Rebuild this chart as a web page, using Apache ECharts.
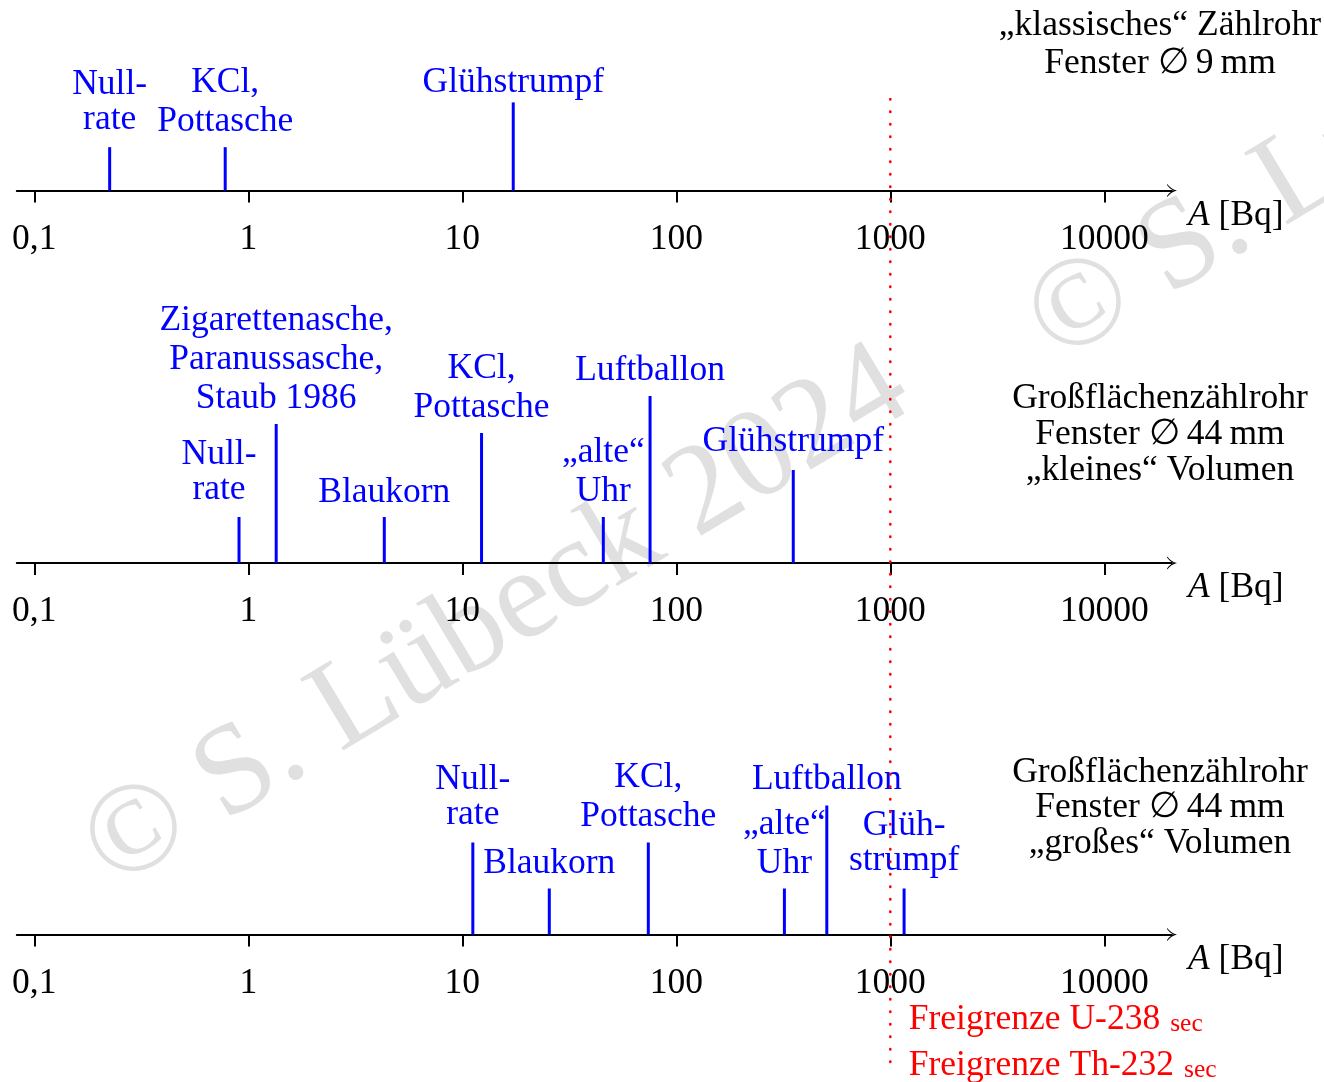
<!DOCTYPE html>
<html>
<head>
<meta charset="utf-8">
<script src="https://cdn.jsdelivr.net/npm/echarts@6/dist/echarts.min.js"></script>
<style>
html, body { margin: 0; padding: 0; background: #fff; }
#chart { width: 1324px; height: 1082px; }
</style>
</head>
<body>
<div id="chart"></div>
<script>
// ---- data: activities of everyday samples, in Bq ----
const classicLabels = ['Null-\nrate', 'KCl,\nPottasche', 'Glühstrumpf'];
const classicActivity = [0.225, 0.78, 17.3];

const smallVolumeLabels = ['Null-\nrate', 'Zigarettenasche,\nParanussasche,\nStaub 1986', 'Blaukorn',
  'KCl,\nPottasche', '„alte“\nUhr', 'Luftballon', 'Glühstrumpf'];
const smallVolumeActivity = [0.905, 1.35, 4.32, 12.3, 45.6, 75.4, 352];

const largeVolumeLabels = ['Null-\nrate', 'Blaukorn', 'KCl,\nPottasche', '„alte“\nUhr', 'Luftballon', 'Glüh-\nstrumpf'];
const largeVolumeActivity = [11.2, 25.5, 74, 320, 505, 1160];

const decadeTickLabels = ['0,1', '1', '10', '100', '1000', '10000'];

const counterTitles = [
  '„klassisches“ Zählrohr\nFenster ∅\u20099\u2009mm',
  'Großflächenzählrohr\nFenster ∅\u200944\u2009mm\n„kleines“ Volumen',
  'Großflächenzählrohr\nFenster ∅\u200944\u2009mm\n„großes“ Volumen'
];

const exemptionLimit = 1000;
const exemptionLabels = ['Freigrenze U-238', 'Freigrenze Th-232'];
const exemptionSuffix = 'sec';

const axisTitle = '{i|A} [Bq]';
const watermark = '© S. Lübeck 2024';

// ---- layout ----
const FONT_FAMILY = '"Liberation Serif", "Times New Roman", "DejaVu Serif", serif';
const FONT_SIZE = 35.5;
const FONT = FONT_SIZE + 'px ' + FONT_FAMILY;
const MID = 8.5;           // distance from canvas "middle" baseline to alphabetic baseline
const BLUE = '#0000ff';
const RED = '#ff0000';

const axisLeft = 34.3;     // pixel of 0.1 Bq
const decadePx = 214;
const panelAxisY = [190.5, 563, 934.5];
const panelHeight = 200;

// stem lengths (px), gap between stem top and the label's last baseline, sideways label shift
const stemLengths = [
  [45.5, 45.5, 92.5],
  [46, 139, 46, 130, 46, 167, 93],
  [92, 46, 92, 46, 129, 46]
];
const labelGaps = [
  [19, 17, 11.6],
  [18.4, 16.7, 16, 17.3, 16.7, 16.4, 20],
  [19, 16, 17, 16.6, 17.4, 19]
];
const labelShifts = [
  [0, 0, 0],
  [-20, 0, 0, 0, 0, 0, 0],
  [0, 0, 0, 0, 0, 0]
];

const panels = [
  { labels: classicLabels, activity: classicActivity },
  { labels: smallVolumeLabels, activity: smallVolumeActivity },
  { labels: largeVolumeLabels, activity: largeVolumeActivity }
];

const chart = echarts.init(document.getElementById('chart'), null, { renderer: 'canvas' });

const grids = [], xAxes = [], yAxes = [], series = [];

function tickFormatter(v) {
  const idx = Math.round(Math.log10(v)) + 1;
  return decadeTickLabels[idx] !== undefined ? decadeTickLabels[idx] : '';
}

// log-scaled data axes, one per counter
panelAxisY.forEach(function (ay, p) {
  grids.push({ left: axisLeft, width: decadePx * 5, top: ay - panelHeight, height: panelHeight });
  xAxes.push({
    type: 'log', logBase: 10, min: 0.1, max: 10000, gridIndex: p,
    axisLine: { show: false },
    axisTick: { show: true, length: 12, lineStyle: { color: '#000', width: 2 } },
    minorTick: { show: false },
    splitLine: { show: false },
    axisLabel: {
      formatter: tickFormatter, margin: 31, color: '#000',
      fontFamily: FONT_FAMILY, fontSize: FONT_SIZE, lineHeight: 36
    }
  });
  yAxes.push({ type: 'value', min: 0, max: panelHeight, gridIndex: p, show: false });
});

// arrow lines carrying the axis title
const arrowPath = 'path://M70,0 Q56,62 0,104 L12,106 Q62,68 70,34 Q78,68 128,106 L140,104 Q84,62 70,0 Z';
panelAxisY.forEach(function (ay, p) {
  const g = grids.length;
  grids.push({ left: 16.7, width: 1172 - 16.7, top: ay - panelHeight, height: panelHeight });
  xAxes.push({
    type: 'value', min: 0, max: 1, gridIndex: g,
    axisLine: {
      show: true, onZero: false,
      lineStyle: { color: '#000', width: 1.8 },
      symbol: ['none', arrowPath], symbolSize: [14, 10]
    },
    axisTick: { show: false }, axisLabel: { show: false }, splitLine: { show: false },
    name: axisTitle, nameLocation: 'end', nameGap: 16,
    nameTextStyle: {
      color: '#000', fontFamily: FONT_FAMILY, fontSize: FONT_SIZE, lineHeight: 36,
      align: 'left', verticalAlign: 'top', padding: [7, 0, 0, 0],
      rich: { i: { fontStyle: 'italic', fontFamily: FONT_FAMILY, fontSize: FONT_SIZE, lineHeight: 36, color: '#000' } }
    }
  });
  yAxes.push({ type: 'value', min: 0, max: 1, gridIndex: g, show: false });
});

// overlay for the exemption limit line
const overlayIndex = grids.length;
grids.push({ left: axisLeft, width: decadePx * 5, top: 99, height: 973 });
xAxes.push({ type: 'log', logBase: 10, min: 0.1, max: 10000, gridIndex: overlayIndex, show: false });
yAxes.push({ type: 'value', min: 0, max: 1, gridIndex: overlayIndex, show: false });

// stems with their labels
panels.forEach(function (panel, p) {
  const data = panel.activity.map(function (a, i) { return [a, stemLengths[p][i]]; });
  series.push({
    type: 'custom', xAxisIndex: p, yAxisIndex: p, clip: false, silent: true, z: 5,
    encode: { x: 0, y: 1 },
    data: data,
    renderItem: function (params, api) {
      const i = params.dataIndex;
      const foot = api.coord([api.value(0), 0]);
      const head = api.coord([api.value(0), api.value(1)]);
      const children = [{
        type: 'line',
        shape: { x1: foot[0], y1: foot[1], x2: head[0], y2: head[1] },
        style: { stroke: BLUE, lineWidth: 3 }
      }];
      const lines = panel.labels[i].split('\n');
      const cx = foot[0] + labelShifts[p][i];
      let baseline = head[1] - labelGaps[p][i];
      for (let k = lines.length - 1; k >= 0; k--) {
        children.push({
          type: 'text', x: cx, y: baseline - MID,
          style: { text: lines[k], align: 'center', verticalAlign: 'middle', font: FONT, fill: BLUE }
        });
        if (k > 0) baseline -= /[,„gjpqy]/.test(lines[k - 1]) ? 39 : 35;
      }
      return { type: 'group', children: children };
    }
  });
});

// exemption limit (dotted)
series.push({
  type: 'line', xAxisIndex: overlayIndex, yAxisIndex: overlayIndex, silent: true, z: 10,
  symbol: 'none', animation: false,
  data: [[exemptionLimit, 1], [exemptionLimit, 0]],
  lineStyle: { color: RED, width: 2.6, type: [0.4, 12.1], cap: 'round' }
});

chart.setOption({
  backgroundColor: '#fff',
  animation: false,
  grid: grids, xAxis: xAxes, yAxis: yAxes, series: series
});

const limitX = chart.convertToPixel({ xAxisIndex: overlayIndex }, exemptionLimit);
const rot = 31 * Math.PI / 180;

const graphics = [
  { type: 'text', x: 96, y: 860, rotation: rot, z: -10, silent: true,
    style: { text: watermark, font: '128px ' + FONT_FAMILY, fill: '#e0e0e0', align: 'left', verticalAlign: 'middle' } },
  { type: 'text', x: 1040, y: 334, rotation: rot, z: -10, silent: true,
    style: { text: watermark, font: '128px ' + FONT_FAMILY, fill: '#e0e0e0', align: 'left', verticalAlign: 'middle' } },
  { type: 'text', x: 1160, y: 7,
    style: { text: counterTitles[0], font: FONT, fill: '#000', align: 'center', verticalAlign: 'top', lineHeight: 38 } },
  { type: 'text', x: 1160, y: 380.5,
    style: { text: counterTitles[1], font: FONT, fill: '#000', align: 'center', verticalAlign: 'top', lineHeight: 36 } },
  { type: 'text', x: 1160, y: 754.5,
    style: { text: counterTitles[2], font: FONT, fill: '#000', align: 'center', verticalAlign: 'top', lineHeight: 35.5 } }
];
const exemptionBaselines = [1027, 1073];
exemptionLabels.forEach(function (lab, k) {
  graphics.push({
    type: 'text', x: limitX + 18.5, y: exemptionBaselines[k] - 25.5, z: 20,
    style: {
      text: lab + '{s|' + exemptionSuffix + '}',
      font: FONT, fill: RED, align: 'left', verticalAlign: 'top', lineHeight: 36,
      rich: { s: { fontFamily: FONT_FAMILY, fontSize: 25.5, fill: RED, lineHeight: 18, verticalAlign: 'bottom', padding: [0, 0, 0, 10] } }
    }
  });
});

chart.setOption({ graphic: graphics });
</script>
</body>
</html>
